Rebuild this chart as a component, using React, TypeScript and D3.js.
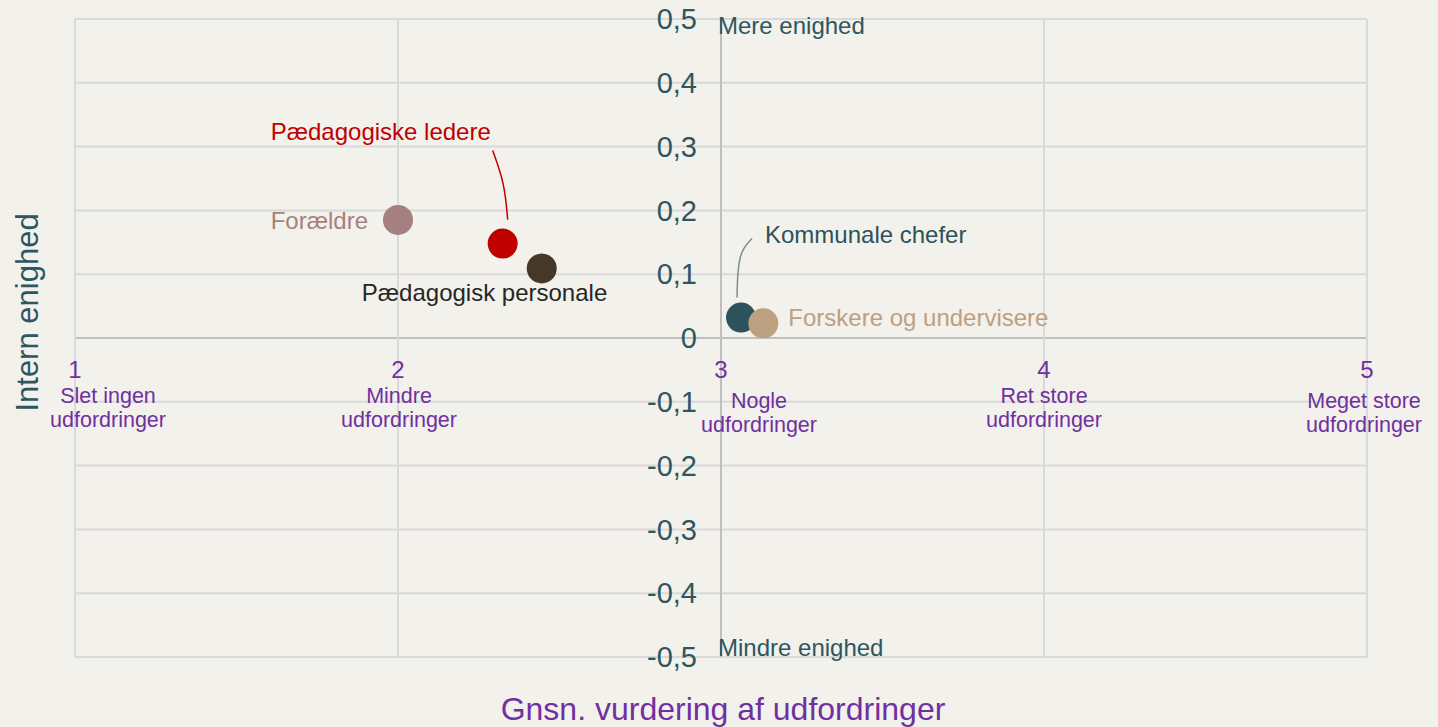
import React from 'react'
import * as d3 from 'd3'

const width = 1438
const height = 727

// values
const groups = ['Forældre', 'Pædagogiske ledere', 'Pædagogisk personale', 'Kommunale chefer', 'Forskere og undervisere']
const challenge = [2.0, 2.324, 2.445, 3.062, 3.131]
const agreement = [0.185, 0.148, 0.109, 0.032, 0.023]
const groupColors = ['#a67f80', '#c00000', '#463828', '#2c525b', '#bda07f']
const labelColors = ['#a67f80', '#c00000', '#262626', '#2c525b', '#bda07f']

const xTicks = [1, 2, 3, 4, 5]
const xTickLabels = [
  ['Slet ingen', 'udfordringer'],
  ['Mindre', 'udfordringer'],
  ['Nogle', 'udfordringer'],
  ['Ret store', 'udfordringer'],
  ['Meget store', 'udfordringer'],
]
const yTicks = [-0.5, -0.4, -0.3, -0.2, -0.1, 0, 0.1, 0.2, 0.3, 0.4, 0.5]

const font = '"Liberation Sans", Arial, sans-serif'
const teal = '#2d5660'
const purple = '#7030a0'
const grid = '#d9d9d9'

// label placement relative to each point (dx, dy, anchor)
const labelPos = [
  { dx: -30, dy: 1, anchor: 'end' },
  { dx: -232, dy: -112, anchor: 'start' },
  { dx: -180, dy: 24, anchor: 'start' },
  { dx: 24, dy: -83, anchor: 'start' },
  { dx: 25, dy: -6, anchor: 'start' },
]
// category label offsets (dx from tick, baseline)
const catPos = [
  { dx: 33, y: 403 },
  { dx: 1, y: 403 },
  { dx: 38, y: 408 },
  { dx: 0, y: 403 },
  { dx: -3, y: 408 },
]

const fmt = (t: number) => (t === 0 ? '0' : d3.format('.1f')(t).replace('.', ',').replace('\u2212', '-'))

const App = () => {
  const x = d3.scaleLinear().domain([1, 5]).range([75, 1367])
  const y = d3.scaleLinear().domain([-0.5, 0.5]).range([657, 19])

  const pts = groups.map((g, i) => ({
    name: g,
    cx: x(challenge[i]),
    cy: y(agreement[i]),
    color: groupColors[i],
  }))

  const line = d3.line().curve(d3.curveBasis)
  const leaders = [
    { path: line([[pts[1].cx - 10, pts[1].cy - 93], [pts[1].cx + 2, pts[1].cy - 60], [pts[1].cx + 5, pts[1].cy - 24]]), color: groupColors[1] },
    { path: line([[pts[3].cx + 11, pts[3].cy - 79], [pts[3].cx - 3, pts[3].cy - 65], [pts[3].cx - 4, pts[3].cy - 20]]), color: '#7a8d92' },
  ]

  return (
    <svg width={width} height={height} style={{ position: 'absolute', left: 0, top: 0, fontFamily: font }}>
      <rect width={width} height={height} fill="#f2f1eb" />

      {yTicks.map(t => (
        <line key={'h' + t} x1={x(1)} x2={x(5)} y1={y(t)} y2={y(t)} stroke={t === 0 ? '#bfbfbf' : grid} strokeWidth={2} />
      ))}
      {xTicks.map(t => (
        <line key={'v' + t} x1={x(t)} x2={x(t)} y1={y(0.5)} y2={y(-0.5)} stroke={t === 3 ? '#bfbfbf' : grid} strokeWidth={2} />
      ))}

      {yTicks.map(t => (
        <text key={'yt' + t} x={x(3) - 24} y={y(t)} dy="0.35em" textAnchor="end" fontSize={29} fill={teal}>
          {fmt(t)}
        </text>
      ))}

      {xTicks.map((t, i) => (
        <g key={'xt' + t} fill={purple}>
          <text x={x(t)} y={378} textAnchor="middle" fontSize={24}>{t}</text>
          {xTickLabels[i].map((l, j) => (
            <text key={j} x={x(t) + catPos[i].dx} y={catPos[i].y + j * 24} textAnchor="middle" fontSize={21.5}>{l}</text>
          ))}
        </g>
      ))}

      <text x={x(3) - 3} y={34} fontSize={24} fill={teal}>Mere enighed</text>
      <text x={x(3) - 3} y={656} fontSize={24} fill={teal}>Mindre enighed</text>

      <text transform={`translate(38,${y(0.04)}) rotate(-90)`} textAnchor="middle" fontSize={31} fill={teal}>Intern enighed</text>
      <text x={x(3) + 2} y={720} textAnchor="middle" fontSize={32} fill={purple}>Gnsn. vurdering af udfordringer</text>

      {leaders.map((l, i) => (
        <path key={'ld' + i} d={l.path || ''} fill="none" stroke={l.color} strokeWidth={1.5} />
      ))}

      {pts.map(p => (
        <circle key={'c' + p.name} cx={p.cx} cy={p.cy} r={15} fill={p.color} />
      ))}

      {pts.map((p, i) => (
        <text key={'l' + p.name} x={p.cx + labelPos[i].dx} y={p.cy + labelPos[i].dy} dy="0.35em"
          textAnchor={labelPos[i].anchor} fontSize={24} fill={labelColors[i]}>
          {p.name}
        </text>
      ))}
    </svg>
  )
}

export default App
